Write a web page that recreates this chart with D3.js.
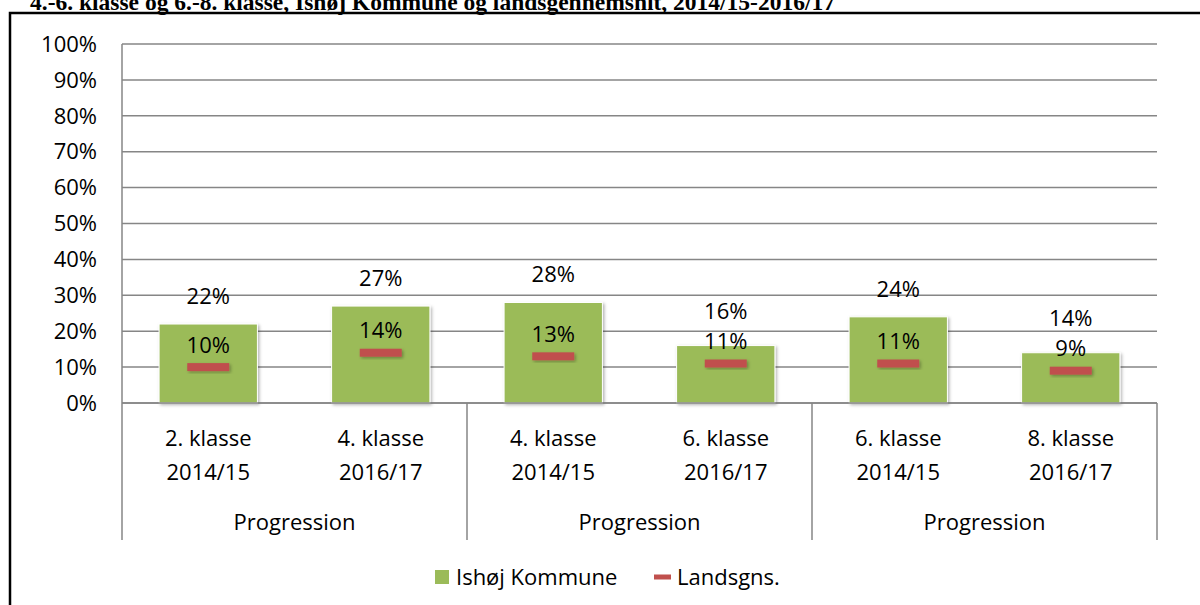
<!DOCTYPE html>
<html>
<head>
<meta charset="utf-8">
<script src="https://cdn.jsdelivr.net/npm/d3@7"></script>
<style>
  body { margin: 0; background: #fff; }
  svg { display: block; }
  .tick-label, .cat-label, .val-label, .legend-label { font-family: "Open Sans", sans-serif; font-size: 22px; fill: #000; }
  .grid { stroke: #868686; stroke-width: 1.5; }
  .title { font-family: "Liberation Serif", serif; font-weight: bold; font-size: 23.5px; }
</style>
</head>
<body>
<div id="chart"></div>
<script>
const width = 1200;
const height = 605;

// Data
const classLabels = ["2. klasse", "4. klasse", "4. klasse", "6. klasse", "6. klasse", "8. klasse"];
const yearLabels = ["2014/15", "2016/17", "2014/15", "2016/17", "2014/15", "2016/17"];
const groupLabels = ["Progression", "Progression", "Progression"];
const ishoj = [22, 27, 28, 16, 24, 14];
const lands = [10, 14, 13, 11, 11, 9];
const yTicks = [0, 10, 20, 30, 40, 50, 60, 70, 80, 90, 100];
const seriesNames = ["Ishøj Kommune", "Landsgns."];

const green = "#9BBB59";
const red = "#C0504D";

const plot = { left: 122, right: 1157, top: 44, bottom: 403 };

const svg = d3.select("#chart").append("svg")
  .attr("width", width)
  .attr("height", height);

// shadow filter for marks
const defs = svg.append("defs");
const f = defs.append("filter").attr("id", "shadow").attr("x", "-20%").attr("y", "-20%").attr("width", "150%").attr("height", "150%");
f.append("feDropShadow").attr("dx", 1.5).attr("dy", 1.5).attr("stdDeviation", 1.5).attr("flood-color", "#000").attr("flood-opacity", 0.3);

// title (cut off at top in the source)
svg.append("text")
  .attr("class", "title")
  .attr("x", 30)
  .attr("y", 9.5)
  .text("4.-6. klasse og 6.-8. klasse, Ishøj Kommune og landsgennemsnit, 2014/15-2016/17");

// outer frame
svg.append("rect")
  .attr("x", 10).attr("y", 13)
  .attr("width", 1200).attr("height", 700)
  .attr("fill", "none").attr("stroke", "#000").attr("stroke-width", 2.5);

const x = d3.scaleBand()
  .domain(d3.range(classLabels.length))
  .range([plot.left, plot.right])
  .paddingInner(0.43)
  .paddingOuter(0.215);

const xGroup = d3.scaleBand()
  .domain(d3.range(groupLabels.length))
  .range([plot.left, plot.right]);

const y = d3.scaleLinear()
  .domain([0, 100])
  .range([plot.bottom, plot.top]);

// gridlines
svg.append("g")
  .selectAll("line")
  .data(yTicks)
  .join("line")
  .attr("class", "grid")
  .attr("x1", plot.left).attr("x2", plot.right)
  .attr("y1", d => y(d)).attr("y2", d => y(d));

// y axis line + labels
svg.append("line").attr("class", "grid")
  .attr("x1", plot.left).attr("x2", plot.left)
  .attr("y1", plot.top).attr("y2", plot.bottom);

svg.append("g")
  .selectAll("text")
  .data(yTicks)
  .join("text")
  .attr("class", "tick-label")
  .attr("x", 97)
  .attr("y", d => y(d))
  .attr("dy", "0.35em")
  .attr("text-anchor", "end")
  .text(d => d + "%");

// group separators in the category axis
const seps = d3.range(groupLabels.length + 1).map(i => i < groupLabels.length ? xGroup(i) : plot.right);
svg.append("g")
  .selectAll("line")
  .data(seps)
  .join("line")
  .attr("class", "grid")
  .attr("x1", d => d).attr("x2", d => d)
  .attr("y1", plot.bottom).attr("y2", 540);

// bars
svg.append("g")
  .selectAll("rect")
  .data(ishoj)
  .join("rect")
  .attr("x", (d, i) => x(i))
  .attr("y", d => y(d))
  .attr("width", x.bandwidth())
  .attr("height", d => y(0) - y(d))
  .attr("fill", green)
  .attr("stroke", "#fff")
  .attr("stroke-width", 1)
  .attr("filter", "url(#shadow)");

// national average markers
const dashW = 42, dashH = 8;
svg.append("g")
  .selectAll("rect")
  .data(lands)
  .join("rect")
  .attr("x", (d, i) => x(i) + x.bandwidth() / 2 - dashW / 2)
  .attr("y", d => y(d) - dashH / 2)
  .attr("width", dashW)
  .attr("height", dashH)
  .attr("fill", red)
  .attr("filter", "url(#shadow)");

// x axis baseline (drawn over bars)
svg.append("line").attr("class", "grid")
  .attr("x1", plot.left).attr("x2", plot.right)
  .attr("y1", plot.bottom).attr("y2", plot.bottom);

// value labels: line labels sit just above the marker,
// bar labels above the bar but pushed up if they would collide
const landsLabelY = lands.map(d => y(d) - 22);
const ishojLabelY = ishoj.map((d, i) => Math.min(y(d) - 28, landsLabelY[i] - 30));

svg.append("g")
  .selectAll("text")
  .data(ishoj)
  .join("text")
  .attr("class", "val-label")
  .attr("x", (d, i) => x(i) + x.bandwidth() / 2)
  .attr("y", (d, i) => ishojLabelY[i])
  .attr("dy", "0.35em")
  .attr("text-anchor", "middle")
  .text(d => d + "%");

svg.append("g")
  .selectAll("text")
  .data(lands)
  .join("text")
  .attr("class", "val-label")
  .attr("x", (d, i) => x(i) + x.bandwidth() / 2)
  .attr("y", (d, i) => landsLabelY[i])
  .attr("dy", "0.35em")
  .attr("text-anchor", "middle")
  .text(d => d + "%");

// category labels
const cat = svg.append("g")
  .selectAll("text")
  .data(classLabels)
  .join("text")
  .attr("class", "cat-label")
  .attr("text-anchor", "middle")
  .attr("x", (d, i) => x(i) + x.bandwidth() / 2);
cat.append("tspan").attr("x", (d, i) => x(i) + x.bandwidth() / 2).attr("y", 438).attr("dy", "0.35em").text(d => d);
cat.append("tspan").attr("x", (d, i) => x(i) + x.bandwidth() / 2).attr("y", 472).attr("dy", "0.35em").text((d, i) => yearLabels[i]);

svg.append("g")
  .selectAll("text")
  .data(groupLabels)
  .join("text")
  .attr("class", "cat-label")
  .attr("text-anchor", "middle")
  .attr("x", (d, i) => xGroup(i) + xGroup.bandwidth() / 2)
  .attr("y", 522)
  .attr("dy", "0.35em")
  .text(d => d);

// legend
const legend = svg.append("g").attr("transform", "translate(435,577)");
legend.append("rect").attr("x", 0).attr("y", -7).attr("width", 14).attr("height", 14).attr("fill", green);
legend.append("text").attr("class", "legend-label").attr("x", 21).attr("dy", "0.35em").text(seriesNames[0]);
legend.append("rect").attr("x", 219).attr("y", -2.5).attr("width", 17).attr("height", 5).attr("fill", red);
legend.append("text").attr("class", "legend-label").attr("x", 242).attr("dy", "0.35em").text(seriesNames[1]);
</script>
</body>
</html>
